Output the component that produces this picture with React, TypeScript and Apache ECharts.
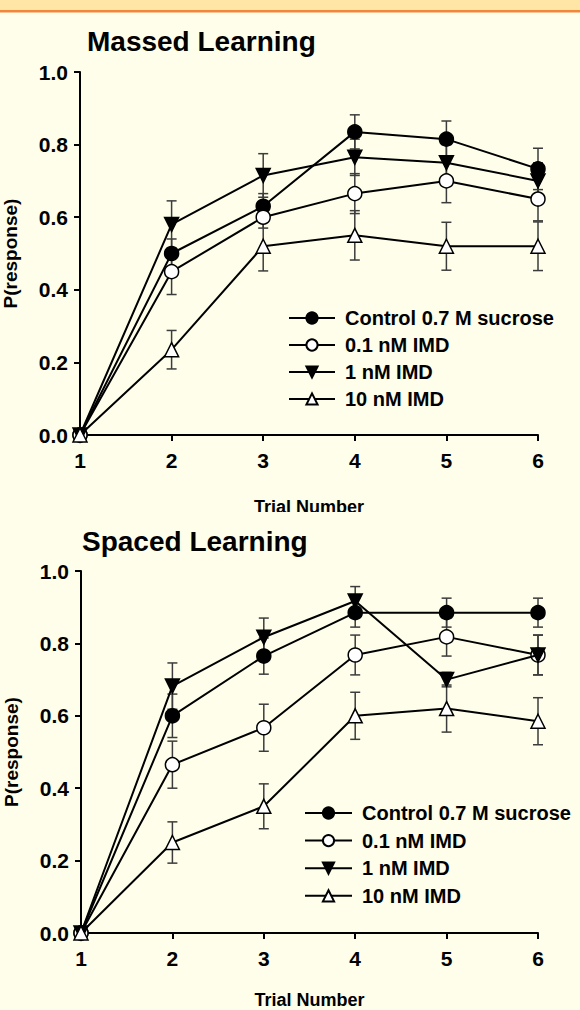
import React, { useEffect, useRef } from "react";
import * as echarts from "echarts";

const trials = [1, 2, 3, 4, 5, 6];
const seriesNames = ["Control 0.7 M sucrose", "0.1 nM IMD", "1 nM IMD", "10 nM IMD"];
const xTickLabels = ["1", "2", "3", "4", "5", "6"];

// Massed learning
const massedControl = [0, 0.5, 0.63, 0.835, 0.815, 0.733];
const massedControlErr = [0, 0.04, 0.035, 0.047, 0.05, 0.057];
const massed01 = [0, 0.45, 0.6, 0.665, 0.7, 0.65];
const massed01Err = [0, 0.063, 0.03, 0.055, 0.06, 0.06];
const massed1 = [0, 0.58, 0.715, 0.765, 0.75, 0.7];
const massed1Err = [0, 0.065, 0.06, 0.05, 0.05, 0.05];
const massed10 = [0, 0.235, 0.52, 0.55, 0.52, 0.52];
const massed10Err = [0, 0.053, 0.068, 0.068, 0.066, 0.067];

// Spaced learning
const spacedControl = [0, 0.6, 0.765, 0.885, 0.885, 0.885];
const spacedControlErr = [0, 0.06, 0.05, 0.04, 0.04, 0.04];
const spaced01 = [0, 0.465, 0.567, 0.768, 0.818, 0.768];
const spaced01Err = [0, 0.065, 0.065, 0.055, 0.053, 0.055];
const spaced1 = [0, 0.682, 0.817, 0.917, 0.7, 0.768];
const spaced1Err = [0, 0.064, 0.053, 0.04, 0.02, 0.055];
const spaced10 = [0, 0.25, 0.35, 0.6, 0.62, 0.585];
const spaced10Err = [0, 0.057, 0.062, 0.065, 0.065, 0.065];

const FONT = 'Arial, "Liberation Sans", sans-serif';
const BG = "#FEFEEB";

const markerStyles = [
  { symbol: "circle", symbolRotate: 0, fill: "#000" },
  { symbol: "circle", symbolRotate: 0, fill: "#fff" },
  { symbol: "triangle", symbolRotate: 180, fill: "#000" },
  { symbol: "triangle", symbolRotate: 0, fill: "#fff" },
];

function buildSeries(values: number[][], errs: number[][], gi: number) {
  const out: any[] = [];
  values.forEach((vals, si) => {
    out.push({
      type: "custom",
      name: seriesNames[si] + " err",
      xAxisIndex: gi,
      yAxisIndex: gi,
      z: 1,
      silent: true,
      data: trials.map((t, i) => [t, vals[i], errs[si][i]]),
      renderItem: (params: any, api: any) => {
        const x = api.value(0);
        const y = api.value(1);
        const e = api.value(2);
        if (!e) return { type: "group", children: [] };
        const top = api.coord([x, y + e]);
        const bot = api.coord([x, y - e]);
        const hw = 5;
        const st = { stroke: "#3c3c3c", lineWidth: 1.5 };
        return {
          type: "group",
          children: [
            { type: "line", shape: { x1: top[0], y1: top[1], x2: bot[0], y2: bot[1] }, style: st },
            { type: "line", shape: { x1: top[0] - hw, y1: top[1], x2: top[0] + hw, y2: top[1] }, style: st },
            { type: "line", shape: { x1: bot[0] - hw, y1: bot[1], x2: bot[0] + hw, y2: bot[1] }, style: st },
          ],
        };
      },
    });
  });
  values.forEach((vals, si) => {
    const m = markerStyles[si];
    out.push({
      type: "line",
      name: seriesNames[si],
      xAxisIndex: gi,
      yAxisIndex: gi,
      z: 3 + si,
      data: trials.map((t, i) => [t, vals[i]]),
      symbol: m.symbol,
      symbolRotate: m.symbolRotate,
      symbolSize: 14,
      lineStyle: { color: "#000", width: 2 },
      itemStyle: { color: m.fill, borderColor: "#000", borderWidth: 1.5, opacity: 1 },
      emphasis: { disabled: true },
    });
  });
  return out;
}

function axisPair(gi: number, xNameGap: number) {
  const labelStyle = { color: "#000", fontFamily: FONT, fontWeight: "bold" as const, fontSize: 21 };
  return {
    x: {
      type: "value",
      gridIndex: gi,
      min: 1,
      max: 6,
      interval: 1,
      name: "Trial Number",
      nameLocation: "middle",
      nameGap: xNameGap,
      nameTextStyle: { color: "#000", fontFamily: FONT, fontWeight: "bold", fontSize: 18 },
      axisLine: { show: true, onZero: false, lineStyle: { color: "#000", width: 2 } },
      axisTick: { show: true, inside: false, length: 6, lineStyle: { color: "#000", width: 2 } },
      axisLabel: { ...labelStyle, margin: 15, formatter: (v: number) => xTickLabels[Math.round(v) - 1] ?? "" },
      splitLine: { show: false },
    },
    y: {
      type: "value",
      gridIndex: gi,
      min: 0,
      max: 1,
      interval: 0.2,
      name: "P(response)",
      nameLocation: "middle",
      nameRotate: 90,
      nameGap: 60,
      nameTextStyle: { color: "#000", fontFamily: FONT, fontWeight: "bold", fontSize: 19 },
      axisLine: { show: true, onZero: false, lineStyle: { color: "#000", width: 2 } },
      axisTick: { show: true, inside: false, length: 6, lineStyle: { color: "#000", width: 2 } },
      axisLabel: { ...labelStyle, margin: 12, formatter: (v: number) => v.toFixed(1) },
      splitLine: { show: false },
    },
  };
}

export default function App() {
  const ref = useRef<HTMLDivElement>(null);
  useEffect(() => {
    document.body.style.margin = "0";
    if (!ref.current) return;
    const chart = echarts.init(ref.current, undefined, { renderer: "svg" });
    const a0 = axisPair(0, 63);
    const a1 = axisPair(1, 58);
    const legendText = { color: "#000", fontFamily: FONT, fontWeight: "bold" as const, fontSize: 20, padding: [0, 0, 0, 5] };
    chart.setOption({
      animation: false,
      backgroundColor: BG,
      title: [
        { text: "Massed Learning", left: 87, top: 27, padding: 0, textStyle: { color: "#000", fontFamily: FONT, fontWeight: "bold", fontSize: 28 } },
        { text: "Spaced Learning", left: 82, top: 527, padding: 0, textStyle: { color: "#000", fontFamily: FONT, fontWeight: "bold", fontSize: 28 } },
      ],
      grid: [
        { left: 80, top: 72, width: 458, height: 363, containLabel: false, outerBoundsMode: "none" },
        { left: 81, top: 571, width: 457, height: 362, containLabel: false, outerBoundsMode: "none" },
      ],
      xAxis: [a0.x, a1.x],
      yAxis: [a0.y, a1.y],
      legend: [
        {
          orient: "vertical",
          left: 288,
          top: 308,
          padding: 0,
          itemWidth: 46,
          itemHeight: 14,
          itemGap: 7,
          selectedMode: false,
          data: seriesNames,
          textStyle: legendText,
        },
        {
          orient: "vertical",
          left: 304,
          top: 803,
          padding: 0,
          itemWidth: 47,
          itemHeight: 14,
          itemGap: 7.6,
          selectedMode: false,
          data: seriesNames,
          textStyle: legendText,
        },
      ],
      graphic: [
        { type: "rect", shape: { x: 0, y: 0, width: 580, height: 10 }, style: { fill: "#FFE6A6" }, z: 10 },
        { type: "rect", shape: { x: 0, y: 10, width: 580, height: 2.5 }, style: { fill: "#F2863A" }, z: 10 },
        { type: "rect", shape: { x: 0, y: 512, width: 580, height: 13 }, style: { fill: BG }, z: 10 },
      ],
      series: [
        ...buildSeries(
          [massedControl, massed01, massed1, massed10],
          [massedControlErr, massed01Err, massed1Err, massed10Err],
          0
        ),
        ...buildSeries(
          [spacedControl, spaced01, spaced1, spaced10],
          [spacedControlErr, spaced01Err, spaced1Err, spaced10Err],
          1
        ),
      ],
    });
    return () => chart.dispose();
  }, []);
  return <div ref={ref} style={{ width: 580, height: 1010 }} />;
}
